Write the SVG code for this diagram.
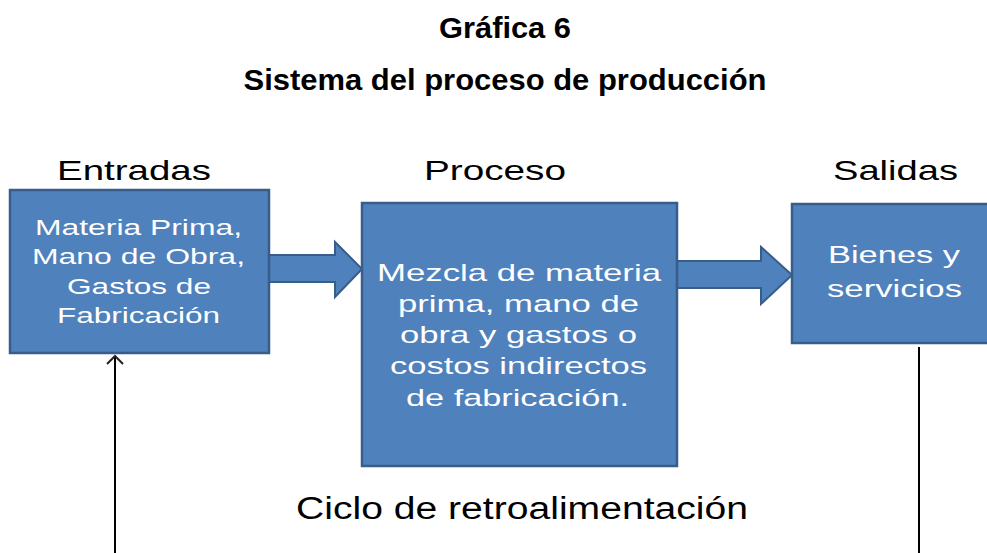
<svg xmlns="http://www.w3.org/2000/svg" width="987" height="553" viewBox="0 0 987 553">
<defs>
<style>
.box{fill:#4F81BD;stroke:#385D8A;stroke-width:2.5}
.blk{fill:#4F81BD;stroke:#385D8A;stroke-width:2;stroke-linejoin:miter}
.title{font-family:"Liberation Sans",Arial,sans-serif;font-weight:bold;font-size:29px;fill:#000;text-anchor:middle}
.hdr{font-family:"Liberation Sans",Arial,sans-serif;font-size:28px;fill:#000}
.in{font-family:"Liberation Sans",Arial,sans-serif;font-size:22px;fill:#fff}
.mid{font-family:"Liberation Sans",Arial,sans-serif;font-size:24px;fill:#fff}
.out{font-family:"Liberation Sans",Arial,sans-serif;font-size:23px;fill:#fff}
.fb{font-family:"Liberation Sans",Arial,sans-serif;font-size:31px;fill:#000}
.line{stroke:#000;stroke-width:2;fill:none}
</style>
<marker id="open" markerWidth="20" markerHeight="20" refX="10" refY="10" orient="auto" markerUnits="userSpaceOnUse">
<path d="M2,2 L10,10 L2,18" fill="none" stroke="#222" stroke-width="2"/>
</marker>
</defs>
<rect width="987" height="553" fill="#fff"/>
<g id="titles">
<text class="title" x="505" y="38" textLength="132" lengthAdjust="spacingAndGlyphs">Gráfica 6</text>
<text class="title" x="505" y="90" textLength="523" lengthAdjust="spacingAndGlyphs">Sistema del proceso de producción</text>
</g>
<g id="headers">
<text class="hdr" x="57" y="180" textLength="154" lengthAdjust="spacingAndGlyphs">Entradas</text>
<text class="hdr" x="424" y="180" textLength="142" lengthAdjust="spacingAndGlyphs">Proceso</text>
<text class="hdr" x="833" y="180" textLength="125" lengthAdjust="spacingAndGlyphs">Salidas</text>
</g>
<g id="connectors">
<polygon class="blk" points="269,255 335,255 335,242 362,269 335,297 335,282 269,282"/>
<polygon class="blk" points="677,261 761,261 761,247 792,275 761,304 761,288 677,288"/>
<line class="line" x1="115" y1="553" x2="115" y2="356" marker-end="url(#open)"/>
<line class="line" x1="919" y1="347" x2="919" y2="553"/>
</g>
<g id="entradas">
<rect class="box" x="10" y="190" width="259" height="163"/>
<text class="in" x="35" y="235" textLength="207" lengthAdjust="spacingAndGlyphs">Materia Prima,</text>
<text class="in" x="32" y="264" textLength="213" lengthAdjust="spacingAndGlyphs">Mano de Obra,</text>
<text class="in" x="67" y="294" textLength="144" lengthAdjust="spacingAndGlyphs">Gastos de</text>
<text class="in" x="57" y="323" textLength="163" lengthAdjust="spacingAndGlyphs">Fabricación</text>
</g>
<g id="proceso">
<rect class="box" x="362" y="203" width="315" height="263"/>
<text class="mid" x="377" y="281" textLength="284" lengthAdjust="spacingAndGlyphs">Mezcla de materia</text>
<text class="mid" x="398" y="312" textLength="241" lengthAdjust="spacingAndGlyphs">prima, mano de</text>
<text class="mid" x="400" y="343" textLength="237" lengthAdjust="spacingAndGlyphs">obra y gastos o</text>
<text class="mid" x="390" y="374" textLength="257" lengthAdjust="spacingAndGlyphs">costos indirectos</text>
<text class="mid" x="406" y="406" textLength="223" lengthAdjust="spacingAndGlyphs">de fabricación.</text>
</g>
<g id="salidas">
<rect class="box" x="792" y="204" width="200" height="139"/>
<text class="out" x="828" y="263" textLength="132" lengthAdjust="spacingAndGlyphs">Bienes y</text>
<text class="out" x="827" y="297" textLength="135" lengthAdjust="spacingAndGlyphs">servicios</text>
</g>
<g id="ciclo">
<text class="fb" x="296" y="519" textLength="452" lengthAdjust="spacingAndGlyphs">Ciclo de retroalimentación</text>
</g>
</svg>
